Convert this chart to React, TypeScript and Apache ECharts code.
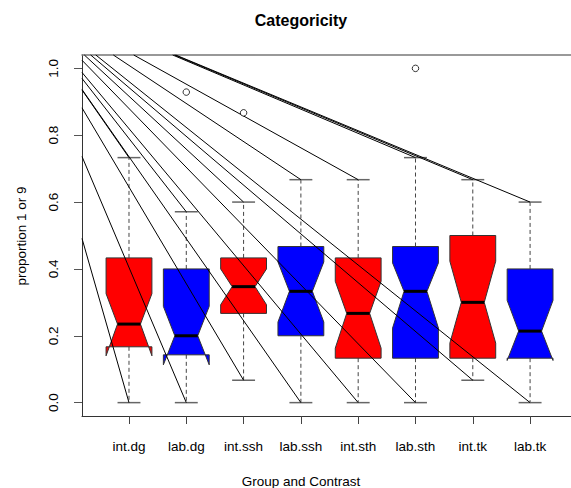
import React, { useEffect, useRef } from "react";
import * as echarts from "echarts";

const categories = ["int.dg", "lab.dg", "int.ssh", "lab.ssh", "int.sth", "lab.sth", "int.tk", "lab.tk"];
const whiskerLow = [0, 0, 0.067, 0, 0, 0, 0.067, 0];
const hingeLow = [0.167, 0.143, 0.267, 0.2, 0.133, 0.133, 0.133, 0.133];
const medians = [0.235, 0.2, 0.347, 0.333, 0.267, 0.333, 0.3, 0.214];
const hingeHigh = [0.433, 0.4, 0.433, 0.467, 0.433, 0.467, 0.5, 0.4];
const whiskerHigh = [0.733, 0.571, 0.6, 0.667, 0.667, 0.733, 0.667, 0.6];
const notchLow = [0.14, 0.113, 0.293, 0.241, 0.163, 0.223, 0.178, 0.126];
const notchHigh = [0.326, 0.288, 0.4, 0.421, 0.363, 0.418, 0.423, 0.306];
const outliers: [number, number][] = [[2, 0.929], [3, 0.867], [6, 1.0]];
const boxColors = ["#FF0000", "#0000FF", "#FF0000", "#0000FF", "#FF0000", "#0000FF", "#FF0000", "#0000FF"];
const yTicks = [0, 0.2, 0.4, 0.6, 0.8, 1.0];
const xTicks = [1, 2, 3, 4, 5, 6, 7, 8];
const lineOrigin = [-1.08, 1.246];

const FONT = "Liberation Sans, Arial, sans-serif";

export default function App() {
  const ref = useRef<HTMLDivElement>(null);
  useEffect(() => {
    if (!ref.current) return;
    const chart = echarts.init(ref.current, null, { renderer: "svg" });
    const boxData = categories.map((_, i) => [
      i + 1, whiskerLow[i], hingeLow[i], medians[i], hingeHigh[i], whiskerHigh[i], notchLow[i], notchHigh[i],
    ]);
    const diagData: number[][] = [];
    categories.forEach((_, i) => {
      diagData.push([i + 1, whiskerLow[i]]);
      diagData.push([i + 1, whiskerHigh[i]]);
    });
    const option: any = {
      animation: false,
      backgroundColor: "#ffffff",
      textStyle: { fontFamily: FONT },
      grid: { left: 82, right: 0, top: 55, bottom: 72, containLabel: false },
      xAxis: [
        {
          type: "value",
          min: 0.18,
          max: 8.714,
          axisLine: { show: true, onZero: false, lineStyle: { color: "#333", width: 1 } },
          axisTick: { show: true, customValues: xTicks, length: 8, lineStyle: { color: "#444" } },
          axisLabel: {
            show: true,
            customValues: xTicks,
            margin: 23,
            fontSize: 13.5,
            color: "#000",
            fontFamily: FONT,
            formatter: (v: number) => categories[Math.round(v) - 1] ?? "",
          },
          splitLine: { show: false },
        },
        {
          type: "value",
          position: "top",
          min: 0.18,
          max: 8.714,
          axisLine: { show: true, onZero: false, lineStyle: { color: "#777", width: 1.5 } },
          axisTick: { show: false },
          axisLabel: { show: false },
          splitLine: { show: false },
        },
      ],
      yAxis: {
        type: "value",
        min: -0.04,
        max: 1.04,
        axisLine: { show: true, onZero: false, lineStyle: { color: "#333", width: 1 } },
        axisTick: { show: true, customValues: yTicks, length: 8, lineStyle: { color: "#555" } },
        axisLabel: {
          show: true,
          customValues: yTicks,
          rotate: 90,
          margin: 22,
          fontSize: 13.5,
          color: "#000",
          fontFamily: FONT,
          formatter: (v: number) => v.toFixed(1),
        },
        splitLine: { show: false },
      },
      graphic: [
        { type: "text", x: 301, y: 20, style: { text: "Categoricity", font: `bold 16px ${FONT}`, fill: "#000", align: "center", verticalAlign: "middle" } },
        { type: "text", x: 301, y: 481, style: { text: "Group and Contrast", font: `13.5px ${FONT}`, fill: "#000", align: "center", verticalAlign: "middle" } },
        { type: "text", x: 21, y: 236, rotation: Math.PI / 2, style: { text: "proportion 1 or 9", font: `13.5px ${FONT}`, fill: "#000", align: "center", verticalAlign: "middle" } },
      ],
      series: [
        {
          type: "custom",
          name: "boxes",
          data: boxData,
          z: 2,
          renderItem: (params: any, api: any) => {
            const x = api.value(0);
            const wl = api.value(1), hl = api.value(2), m = api.value(3), hh = api.value(4), wh = api.value(5), nl = api.value(6), nh = api.value(7);
            const w = 0.4;
            const p = (a: number, b: number) => api.coord([a, b]);
            const pts = [p(x - w, hl), p(x - w, nl), p(x - w / 2, m), p(x - w, nh), p(x - w, hh), p(x + w, hh), p(x + w, nh), p(x + w / 2, m), p(x + w, nl), p(x + w, hl)];
            const seg = (a: number[], b: number[], style: any) => ({ type: "line", shape: { x1: a[0], y1: a[1], x2: b[0], y2: b[1] }, style });
            const dash = { stroke: "#444", lineWidth: 1, lineDash: [4, 3] };
            const staple = { stroke: "#666", lineWidth: 1.5 };
            return {
              type: "group",
              children: [
                seg(p(x, hh), p(x, wh), dash),
                seg(p(x, hl), p(x, wl), dash),
                seg(p(x - w / 2, wh), p(x + w / 2, wh), staple),
                seg(p(x - w / 2, wl), p(x + w / 2, wl), staple),
                { type: "polygon", shape: { points: pts }, style: { fill: boxColors[params.dataIndex], stroke: "#333", lineWidth: 1 } },
                seg(p(x - w / 2, m), p(x + w / 2, m), { stroke: "#000", lineWidth: 3 }),
              ],
            };
          },
        },
        {
          type: "custom",
          name: "diag",
          data: diagData,
          z: 3,
          renderItem: (params: any, api: any) => {
            const e = api.coord([api.value(0), api.value(1)]);
            const o = api.coord(lineOrigin);
            const cs = params.coordSys;
            const tx = (cs.x - o[0]) / (e[0] - o[0]);
            const ty = (cs.y - o[1]) / (e[1] - o[1]);
            const t = Math.max(0, tx, ty);
            const s = [o[0] + t * (e[0] - o[0]), o[1] + t * (e[1] - o[1])];
            return { type: "line", shape: { x1: s[0], y1: s[1], x2: e[0], y2: e[1] }, style: { stroke: "#000", lineWidth: 1 } };
          },
        },
        {
          type: "scatter",
          name: "outliers",
          data: outliers,
          z: 4,
          symbol: "circle",
          symbolSize: 6.5,
          itemStyle: { color: "#ffffff", borderColor: "#000", borderWidth: 0.8, opacity: 1 },
        },
      ],
    };
    chart.setOption(option);
    return () => chart.dispose();
  }, []);
  return <div ref={ref} style={{ position: "fixed", left: 0, top: 0, width: 571, height: 488 }} />;
}
